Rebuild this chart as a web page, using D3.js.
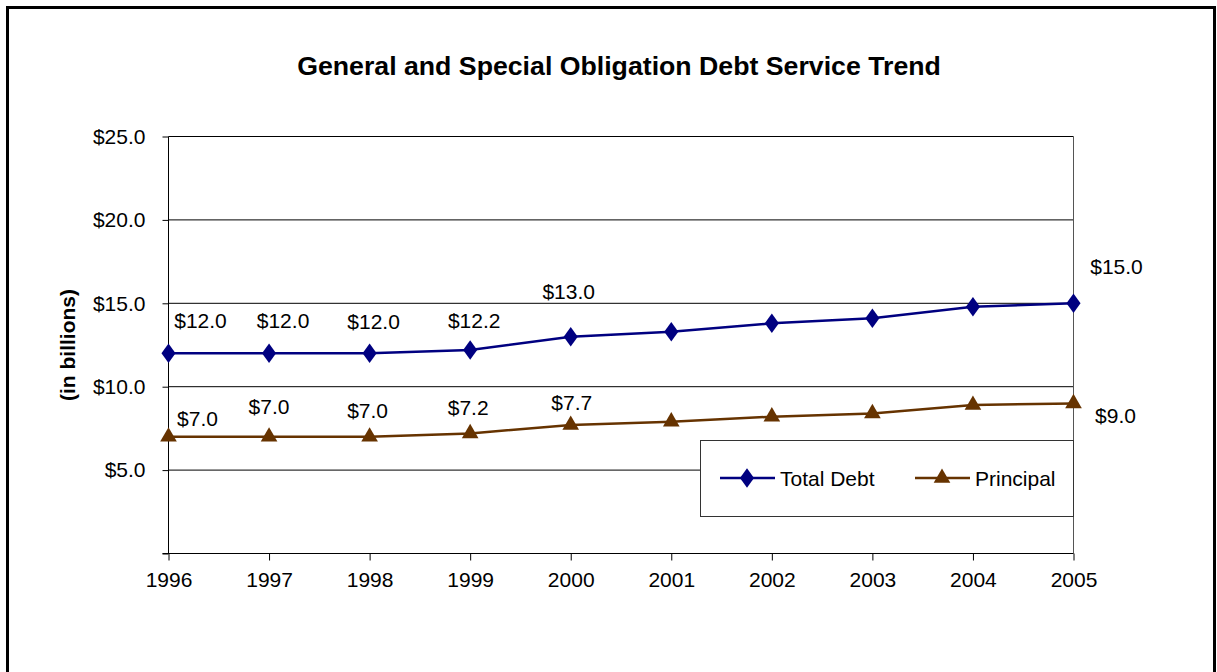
<!DOCTYPE html>
<html><head><meta charset="utf-8">
<script src="https://cdn.jsdelivr.net/npm/d3@7"></script>
<style>html,body{margin:0;padding:0;background:#fff}svg{display:block}text{font-family:"Liberation Sans",Arial,sans-serif}</style>
</head><body>
<script>
const years = [1996,1997,1998,1999,2000,2001,2002,2003,2004,2005];
const totalDebt = [12.0,12.0,12.0,12.2,13.0,13.3,13.8,14.1,14.8,15.0];
const principal = [7.0,7.0,7.0,7.2,7.7,7.9,8.2,8.4,8.9,9.0];
const yTicks = [5,10,15,20,25];
const labelledYears = [1996,1997,1998,1999,2000,2005];
// label offsets (layout only)
const debtLabelOffsets = {1996:[32,-33],1997:[14,-33],1998:[4,-32],1999:[4,-30],2000:[-2,-45],2005:[43,-37]};
const prinLabelOffsets = {1996:[29,-18],1997:[0,-30],1998:[-2,-26],1999:[-2,-26],2000:[1,-23],2005:[42,12]};

const W=1217,H=672;
const svg=d3.select("body").append("svg").attr("width",W).attr("height",H);
svg.append("rect").attr("x",7.5).attr("y",7.5).attr("width",1207).attr("height",700)
  .attr("fill","#fff").attr("stroke","#000").attr("stroke-width",3);

const x=d3.scaleLinear().domain([1996,2005]).range([168.5,1073.5]);
const y=d3.scaleLinear().domain([0,25]).range([553.5,136.5]);

svg.append("text").attr("x",619).attr("y",75).attr("text-anchor","middle")
  .attr("font-size",26.7).attr("font-weight","bold").text("General and Special Obligation Debt Service Trend");

// gridlines
svg.append("g").selectAll("line").data(yTicks).join("line")
  .attr("x1",x(1996)).attr("x2",x(2005)).attr("y1",d=>y(d)).attr("y2",d=>y(d))
  .attr("stroke","#000").attr("stroke-width",1);
// right plot border
svg.append("line").attr("x1",x(2005)).attr("x2",x(2005)).attr("y1",y(25)).attr("y2",y(0)).attr("stroke","#555");

// y axis
const ya=svg.append("g").attr("transform",`translate(${x(1996)},0)`)
  .call(d3.axisLeft(y).tickValues([0,...yTicks]).tickSize(6).tickPadding(17).tickFormat(d=>d===0?"":"$"+d.toFixed(1)));
ya.select(".domain").remove();
ya.append("line").attr("x1",0).attr("x2",0).attr("y1",y(25)).attr("y2",y(0)).attr("stroke","#000");
ya.selectAll("text").attr("font-size",21).attr("font-family","Liberation Sans, Arial").attr("fill","#000");

// x axis
const xa=svg.append("g").attr("transform",`translate(0,${y(0)})`)
  .call(d3.axisBottom(x).tickValues(years).tickSize(7).tickPadding(12).tickFormat(d3.format("d")));
xa.select(".domain").remove();
xa.append("line").attr("x1",x(1996)-6).attr("x2",x(2005)).attr("y1",0).attr("y2",0).attr("stroke","#000");
xa.selectAll("text").attr("font-size",21).attr("font-family","Liberation Sans, Arial").attr("fill","#000");

svg.append("text").attr("transform","translate(75,345) rotate(-90)").attr("text-anchor","middle")
  .attr("font-size",21).attr("font-weight","bold").text("(in billions)");

const series=[
  {name:"Total Debt",vals:totalDebt,color:"#000080",shape:d3.symbolDiamond,size:110,offs:debtLabelOffsets},
  {name:"Principal",vals:principal,color:"#663300",shape:d3.symbolTriangle,size:120,offs:prinLabelOffsets}
];
const line=d3.line().x((d,i)=>x(years[i])).y(d=>y(d));
series.forEach(s=>{
  svg.append("path").attr("d",line(s.vals)).attr("fill","none").attr("stroke",s.color).attr("stroke-width",2.5);
  svg.append("g").selectAll("path").data(s.vals).join("path")
    .attr("transform",(d,i)=>`translate(${x(years[i])},${y(d)})${s.shape===d3.symbolDiamond?" scale(1.25,1)":""}`)
    .attr("d",d3.symbol().type(s.shape).size(s.size)()).attr("fill",s.color);
  svg.append("g").selectAll("text").data(labelledYears).join("text")
    .attr("x",d=>x(d)+s.offs[d][0]).attr("y",d=>y(s.vals[years.indexOf(d)])+s.offs[d][1])
    .attr("text-anchor","middle").attr("dominant-baseline","central").attr("font-size",21)
    .text(d=>"$"+s.vals[years.indexOf(d)].toFixed(1));
});

// legend
const lg=svg.append("g");
lg.append("rect").attr("x",700.5).attr("y",440.5).attr("width",373).attr("height",76)
  .attr("fill","#fff").attr("stroke","#333").attr("stroke-width",1);
const items=[{s:series[0],x0:720,tx:780},{s:series[1],x0:915,tx:975}];
items.forEach(it=>{
  lg.append("line").attr("x1",it.x0).attr("x2",it.x0+55).attr("y1",478).attr("y2",478).attr("stroke",it.s.color).attr("stroke-width",2.5);
  lg.append("path").attr("transform",`translate(${it.x0+27},478)${it.s.shape===d3.symbolDiamond?" scale(1.25,1)":""}`)
    .attr("d",d3.symbol().type(it.s.shape).size(it.s.size)()).attr("fill",it.s.color);
  lg.append("text").attr("x",it.tx).attr("y",478).attr("dominant-baseline","central").attr("font-size",21).text(it.s.name);
});
</script>
</body></html>
